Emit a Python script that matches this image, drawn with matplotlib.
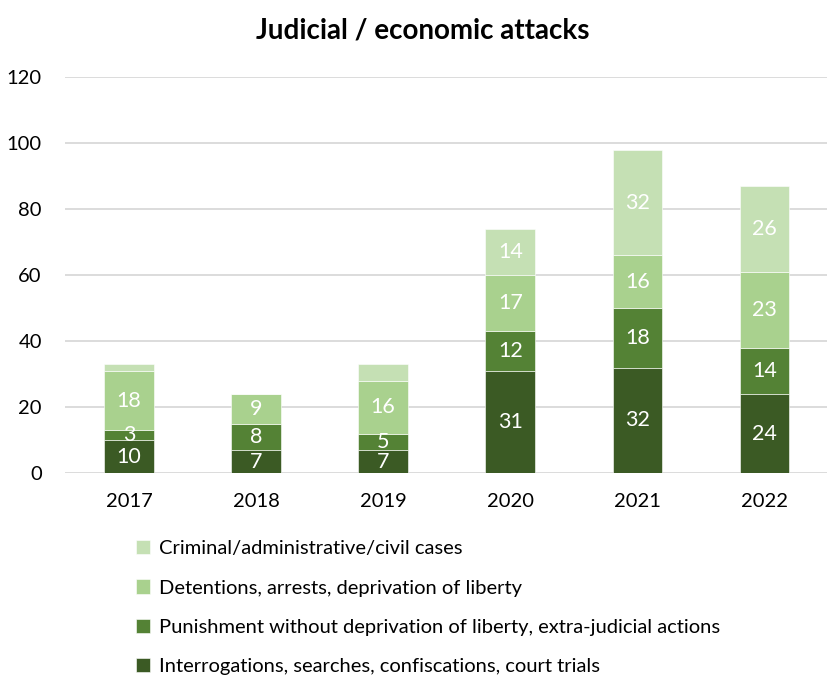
import matplotlib
matplotlib.use("Agg")
import matplotlib.pyplot as plt
import numpy as np

plt.rcParams["font.family"] = ["Lato", "DejaVu Sans"]

years = ["2017", "2018", "2019", "2020", "2021", "2022"]
interrogations = [10, 7, 7, 31, 32, 24]
punishment = [3, 8, 5, 12, 18, 14]
detentions = [18, 9, 16, 17, 16, 23]
criminal_cases = [2, 0, 5, 14, 32, 26]

series = [
    ("Interrogations, searches, confiscations, court trials", interrogations, "#3b5a24", True),
    ("Punishment without deprivation of liberty, extra-judicial actions", punishment, "#548235", True),
    ("Detentions, arrests, deprivation of liberty", detentions, "#a9d18e", True),
    ("Criminal/administrative/civil cases", criminal_cases, "#c5e0b4", False),
]

fig = plt.figure(figsize=(8.28, 6.77), dpi=100)
ax = fig.add_axes([0.079, 0.301, 0.921, 0.585])

x = np.arange(len(years))
bottom = np.zeros(len(years))
handles = []
for name, vals, color, labelled in series:
    vals = np.array(vals, dtype=float)
    bars = ax.bar(x, vals, width=0.39, bottom=bottom, color=color,
                  edgecolor="#ffffff", linewidth=0.4, label=name, zorder=3)
    handles.append(bars)
    for xi, b, v in zip(x, bottom, vals):
        if v >= 3 and (labelled or v >= 10):
            ax.text(xi, b + v / 2, f"{int(v)}", ha="center", va="center",
                    color="white", fontsize=15.5, zorder=4)
    bottom += vals

ax.set_ylim(0, 120)
ax.set_xlim(-0.5, len(years) - 0.5)
ax.set_yticks(np.arange(0, 121, 20))
ax.set_xticks(x)
ax.set_xticklabels(years)
ax.tick_params(axis="both", length=0, labelsize=14.5, colors="#000000")
ax.tick_params(axis="x", pad=14)
ax.tick_params(axis="y", pad=17)
ax.grid(axis="y", color="#d9d9d9", linewidth=1.3, zorder=0)
ax.set_axisbelow(True)
for s in ax.spines.values():
    s.set_visible(False)

fig.text(0.511, 0.955, "Judicial / economic attacks", ha="center", va="center",
         fontsize=20, fontweight="bold")

leg = fig.legend(handles[::-1], [s[0] for s in series][::-1],
                 loc="upper left", bbox_to_anchor=(0.155, 0.214),
                 frameon=False, fontsize=14.5, handlelength=0.7, handleheight=0.7,
                 handletextpad=0.4, labelspacing=1.1, borderaxespad=0)

fig.savefig("out.png", dpi=100)
